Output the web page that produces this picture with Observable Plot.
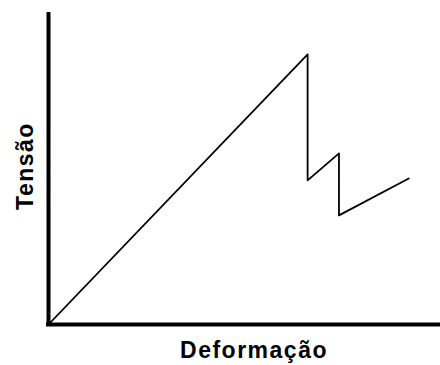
<!DOCTYPE html>
<html>
<head>
<meta charset="utf-8">
<script src="https://cdn.jsdelivr.net/npm/d3@7"></script>
<script src="https://cdn.jsdelivr.net/npm/@observablehq/plot@0.6"></script>
<style>
  html, body { margin: 0; padding: 0; background: #fff; }
  .lbl text { letter-spacing: 1.5px; }
</style>
</head>
<body>
<div id="chart"></div>
<script>
// Stress–strain curve: linear rise, sudden drop, a second peak, then a slow climb
const deformacao = [0, 66.1, 66.1, 74.1, 74.1, 91.9];
const tensao     = [0, 87.1, 46.5, 55.2, 35.2, 47.1];

const xLabel = "Deformação";
const yLabel = "Tensão";

const curve = deformacao.map((d, i) => ({x: d, y: tensao[i]}));

const chart = Plot.plot({
  width: 440,
  height: 365,
  marginLeft: 48,
  marginRight: 0,
  marginTop: 14,
  marginBottom: 41,
  x: {domain: [0, 100], axis: null},
  y: {domain: [0, 100], axis: null},
  style: {fontFamily: "'Liberation Sans', Arial, sans-serif", background: "#fff"},
  marks: [
    Plot.line(curve, {x: "x", y: "y", stroke: "#000", strokeWidth: 1.8}),
    Plot.ruleX([0], {stroke: "#000", strokeWidth: 4, strokeLinecap: "square"}),
    Plot.ruleY([0], {stroke: "#000", strokeWidth: 4, strokeLinecap: "square"}),
    Plot.text([xLabel], {
      text: d => d, frameAnchor: "bottom", lineAnchor: "middle", textAnchor: "middle",
      dx: 9.5, dy: 26, fontSize: 23, fontWeight: "bold", fill: "#000",
      className: "lbl"
    }),
    Plot.text([yLabel], {
      text: d => d, frameAnchor: "left", lineAnchor: "middle", textAnchor: "middle", rotate: -90,
      dx: -23, dy: -3.5, fontSize: 23, fontWeight: "bold", fill: "#000",
      className: "lbl"
    })
  ]
});

document.getElementById("chart").appendChild(chart);
</script>
</body>
</html>
